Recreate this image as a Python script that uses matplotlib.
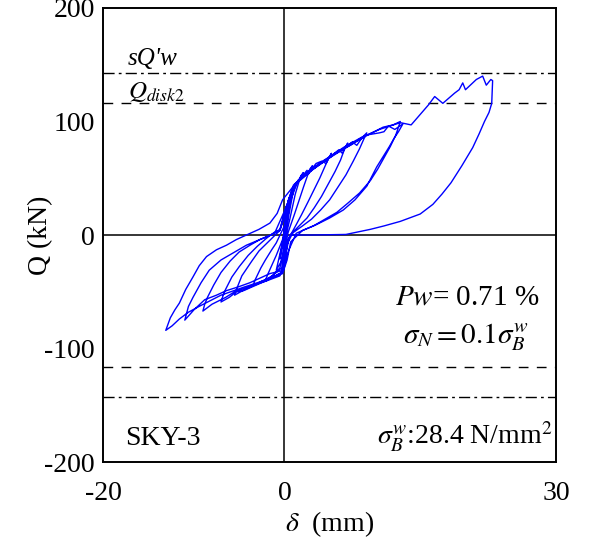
import matplotlib
matplotlib.use("Agg")
import matplotlib.pyplot as plt

# cyclic load-displacement record (delta mm, Q kN)
cycle_1 = [(0, 0), (0.3, 14), (0.6, 27), (0.5, 22), (0.2, 6), (0, -4), (-0.3, -14), (-0.5, -21),
           (-0.4, -15), (-0.1, -3), (0.1, 6)]
cycle_2 = [(0.4, 22), (0.8, 36), (1.1, 42), (0.9, 35), (0.5, 18), (0.2, 4), (0, -10), (-0.4, -24),
           (-0.9, -31), (-0.7, -24), (-0.3, -10), (0.0, 2)]
cycle_3 = [(0.4, 26), (0.9, 40), (1.5, 48), (1.8, 51), (2.1, 55), (1.8, 52), (1.2, 36), (0.6, 14),
           (0.2, 0), (-0.1, -16), (-0.5, -29), (-1.2, -35), (-2.1, -40), (-1.8, -34), (-0.9, -18),
           (-0.2, -4), (0.1, 10)]
cycle_4 = [(0.5, 32), (1.2, 44), (2.0, 52), (2.5, 57), (2.7, 54), (3.1, 61), (2.8, 58), (2.1, 42),
           (1.1, 18), (0.4, 2), (0.0, -16), (-0.3, -29), (-1.5, -37), (-2.6, -41), (-3.5, -45),
           (-3.2, -39), (-2.6, -29), (-2.1, -22), (-1.4, -13), (-0.9, -7), (0.0, 8)]
cycle_5 = [(0.4, 30), (0.9, 41), (1.9, 50), (3.0, 58), (3.5, 63), (4.1, 65), (4.6, 63), (5.2, 72),
           (4.9, 68), (4.4, 59), (3.9, 50), (2.6, 29), (1.9, 18), (1.3, 9), (0.4, -4), (0.1, -20),
           (-0.3, -33), (-1.9, -40), (-3.6, -45), (-4.6, -49), (-5.5, -53), (-5.2, -46), (-4.7, -36),
           (-3.6, -23), (-2.8, -14), (-1.9, -7), (-0.5, 4), (0.2, 24)]
cycle_6 = [(1.0, 44), (2.5, 55), (4.0, 64), (5.2, 70), (6.0, 75), (6.4, 72), (7.0, 81), (6.7, 77),
           (6.2, 66), (5.6, 56), (4.1, 34), (3.3, 24), (2.5, 15), (1.0, 3), (0.3, -8), (0.0, -25),
           (-0.5, -36), (-2.5, -42), (-4.5, -49), (-5.3, -50), (-6.1, -55), (-7.0, -59), (-6.8, -54),
           (-6.5, -48), (-5.8, -37), (-5.0, -28), (-4.0, -18), (-3.0, -10), (-2.0, -3), (-1.0, 3),
           (0.0, 21)]
cycle_7 = [(1.2, 45), (3.0, 58), (5.0, 68), (5.6, 72), (6.5, 76), (7.5, 82), (8.0, 79), (8.6, 86),
           (9.1, 90), (8.8, 85), (8.3, 76), (7.6, 65), (6.8, 53), (5.9, 42), (5.0, 31), (4.0, 22),
           (3.0, 14), (2.0, 8), (0.6, 0), (0.2, -15), (-0.3, -33), (-1.5, -38), (-4.0, -46),
           (-5.5, -50), (-6.5, -55), (-8.0, -61), (-9.0, -67), (-8.8, -61), (-8.5, -55), (-7.8, -44),
           (-7.0, -33), (-6.0, -23), (-5.0, -15), (-3.8, -9), (-2.7, -4), (-1.5, 0), (-0.5, 5),
           (0.2, 25)]
cycle_8 = [(1.5, 48), (3.5, 60), (5.5, 71), (7.5, 80), (8.2, 84), (9.0, 88), (10.5, 90), (11.0, 91),
           (11.5, 96), (12.2, 93), (13.1, 98), (12.6, 91), (12.1, 85), (11.6, 78), (10.9, 69),
           (10.2, 60), (9.1, 43), (7.8, 31), (6.5, 22), (5.0, 15), (3.5, 9), (2.3, 5), (1.3, 1.5),
           (0.4, -15), (-0.1, -31), (-1.6, -34), (-3.8, -42), (-5.2, -46), (-6.4, -49), (-7.5, -53),
           (-8.8, -57), (-10.0, -66), (-11.0, -75), (-10.6, -63), (-10.1, -55), (-9.2, -42),
           (-8.3, -31), (-7.0, -22), (-5.7, -16), (-4.2, -9), (-2.7, -4), (-1.5, 0), (-0.5, 4),
           (0.3, 22)]
cycle_9 = [(1.4, 46), (3.2, 58), (5.0, 68), (7.0, 78), (9.2, 88), (10.9, 95), (12.0, 97), (12.8, 100),
           (12.6, 95), (12.3, 88), (11.7, 78), (11.0, 68), (10.3, 58), (9.5, 48), (8.3, 37), (7.0, 28),
           (5.8, 20), (4.5, 14), (3.2, 8), (2.0, 4), (0.7, -6), (0.3, -22), (-0.2, -34), (-2.2, -40),
           (-4.5, -46), (-7.0, -53), (-9.2, -62), (-10.6, -68), (-11.6, -74), (-12.4, -80),
           (-13.1, -84), (-12.6, -73), (-12.1, -66), (-11.6, -60), (-10.9, -48), (-10.1, -37),
           (-9.4, -27), (-8.6, -19), (-7.5, -13), (-6.4, -9), (-5.3, -4), (-4.2, 0), (-2.8, 5),
           (-1.6, 10.5), (-0.8, 19), (-0.2, 31)]
final_cycle = [(0.9, 42), (2.5, 54), (4.5, 66), (6.5, 77), (8.5, 86), (10.5, 93), (12.8, 99),
               (14.0, 97), (15.9, 114.5), (16.6, 122), (17.5, 116), (18.8, 125), (19.3, 128),
               (19.7, 134), (20.0, 128), (21.2, 137), (21.9, 140), (22.3, 132), (22.8, 137),
               (23.0, 136), (22.9, 116), (22.6, 108), (22.1, 100), (21.5, 89), (20.8, 77),
               (19.6, 61), (18.4, 46), (17.4, 36), (16.4, 27), (15.0, 18.5), (12.8, 12), (11.0, 8),
               (9.5, 5), (8.0, 2.5), (6.8, 0.5), (3.0, 0), (0.9, 0)]

sQw = 143       # kN, dash-dot level
Q_disk2 = 116   # kN, dashed level


def plot():
    plt.rcParams["font.family"] = ["Liberation Serif", "DejaVu Serif"]
    plt.rcParams["mathtext.fontset"] = "stix"

    pts = (cycle_1 + cycle_2 + cycle_3 + cycle_4 + cycle_5 + cycle_6 + cycle_7
           + cycle_8 + cycle_9 + final_cycle)
    d = [p[0] for p in pts]
    q = [p[1] for p in pts]

    fig = plt.figure(figsize=(5.92, 5.40), dpi=100)
    ax = fig.add_axes([0.1745, 0.1444, 0.7647, 0.8408])

    ax.axhline(0, color="black", lw=1.1, zorder=1)
    ax.axvline(0, color="black", lw=1.1, zorder=1)
    for lvl in (sQw, -sQw):
        ax.axhline(lvl, color="black", lw=1.0, ls=(0, (8, 3, 2, 3)), zorder=1)
    for lvl in (Q_disk2, -Q_disk2):
        ax.axhline(lvl, color="black", lw=1.0, ls=(0, (7, 6)), zorder=1)

    ax.plot(d, q, color="#0000ff", lw=1.0, zorder=2)

    ax.set_xlim(-20, 30)
    ax.set_ylim(-200, 200)
    ax.set_xticks([-20, 0, 30])
    ax.set_yticks([-200, -100, 0, 100, 200])
    ax.set_xticklabels(["-20", "0", "30"])
    ax.set_yticklabels(["-200", "-100", "0", "100", "200"])
    ax.tick_params(direction="in", length=0, labelsize=20, pad=6)
    ax.tick_params(axis="x", pad=14)
    for s in ax.spines.values():
        s.set_linewidth(1.4)

    ax.set_ylabel("Q (kN)", fontsize=20, labelpad=-6)
    ax.set_xlabel(r"$\delta$  (mm)", fontsize=20, labelpad=2)

    ax.text(-17.3, 150, "sQ'w", fontsize=18, style="italic", va="baseline")
    ax.text(-17.3, 121, r"$Q_{disk2}$", fontsize=18, va="baseline")
    ax.text(20.2, -61, r"$Pw$= 0.71 %", fontsize=21, ha="center", va="baseline")
    ax.text(20.0, -95, r"$\sigma_N = 0.1\sigma_B^w$", fontsize=21, ha="center", va="baseline")
    ax.text(-17.6, -185, "SKY-3", fontsize=20, va="baseline")
    ax.text(29.6, -185, r"$\sigma_B^w$:28.4 N/mm$^2$", fontsize=20, ha="right", va="baseline")

    fig.savefig("out.png", dpi=100)
    plt.close(fig)


if __name__ == "__main__":
    plot()
